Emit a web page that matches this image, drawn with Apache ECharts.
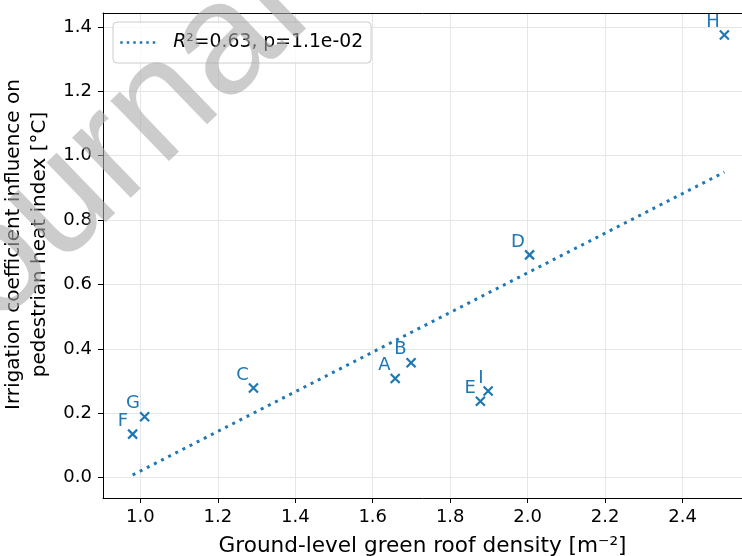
<!DOCTYPE html>
<html>
<head>
<meta charset="utf-8">
<script src="https://cdn.jsdelivr.net/npm/echarts@6/dist/echarts.min.js"></script>
<style>
html,body{margin:0;padding:0;background:#fff;}
#chart{width:742px;height:556px;}
</style>
</head>
<body>
<div id="chart"></div>
<script>
// ---- data ----
var pointNames = ['A', 'B', 'C', 'D', 'E', 'F', 'G', 'H', 'I'];
var xValues = [1.658, 1.699, 1.292, 2.005, 1.878, 0.980, 1.011, 2.508, 1.898];
var yValues = [0.308, 0.357, 0.278, 0.692, 0.237, 0.135, 0.189, 1.375, 0.269];
var fitX = [0.980, 2.508];
var fitY = [0.008, 0.949];
var xTicks = [1.0, 1.2, 1.4, 1.6, 1.8, 2.0, 2.2, 2.4];
var yTicks = [0.0, 0.2, 0.4, 0.6, 0.8, 1.0, 1.2, 1.4];
var xTitle = 'Ground-level green roof density [m⁻²]';
var yTitle = 'Irrigation coefficient influence on\npedestrian heat index [°C]';
var watermark = 'Journal Pre-proof';

var BLUE = '#1f77b4';
var FONT = '"DejaVu Sans", sans-serif';

var scatterData = pointNames.map(function (n, i) {
  return { name: n, value: [xValues[i], yValues[i]] };
});
var fitData = fitX.map(function (x, i) { return [x, fitY[i]]; });

var chart = echarts.init(document.getElementById('chart'), null, { renderer: 'canvas' });

var tickFmt = function (v) { return Number(v).toFixed(1); };
var XMIN = 0.9035, XMAX = 2.5535, YMIN = -0.0635, YMAX = 1.4435;

chart.setOption({
  animation: false,
  backgroundColor: '#fff',
  textStyle: { fontFamily: FONT },
  grid: { left: 103, top: 13, right: 0, bottom: 58, show: false, containLabel: false, outerBoundsMode: 'none' },
  xAxis: [{
    type: 'value', min: XMIN, max: XMAX,
    splitNumber: 8, minInterval: 0.2, maxInterval: 0.2,
    name: xTitle, nameLocation: 'middle', nameGap: 37,
    nameTextStyle: { fontSize: 21.6, color: '#000', fontFamily: FONT },
    axisLine: { show: true, onZero: false, lineStyle: { color: '#000', width: 1 } },
    axisTick: { show: true, length: 5, customValues: xTicks, lineStyle: { color: '#000', width: 1 } },
    axisLabel: { customValues: xTicks, formatter: tickFmt, fontSize: 18, color: '#000', margin: 10, fontFamily: FONT },
    splitLine: { show: true, lineStyle: { color: '#e6e6e6', width: 1 } }
  }, {
    type: 'value', position: 'top', min: XMIN, max: XMAX,
    axisLine: { show: true, onZero: false, lineStyle: { color: '#000', width: 1 } },
    axisTick: { show: false }, axisLabel: { show: false }, splitLine: { show: false }
  }],
  yAxis: {
    type: 'value', min: YMIN, max: YMAX,
    splitNumber: 8, minInterval: 0.2, maxInterval: 0.2,
    name: yTitle, nameLocation: 'middle', nameRotate: 90, nameGap: 40,
    nameTextStyle: { fontSize: 20, color: '#000', lineHeight: 26, fontFamily: FONT, padding: [0, 0, 0, 22] },
    axisLine: { show: true, onZero: false, lineStyle: { color: '#000', width: 1 } },
    axisTick: { show: true, length: 5, customValues: yTicks, lineStyle: { color: '#000', width: 1 } },
    axisLabel: { customValues: yTicks, formatter: tickFmt, fontSize: 18, color: '#000', margin: 11, fontFamily: FONT },
    splitLine: { show: true, lineStyle: { color: '#e6e6e6', width: 1 } }
  },
  legend: {
    show: true, left: 113, top: 22,
    orient: 'vertical',
    padding: [11, 8, 11, 6],
    itemWidth: 36, itemHeight: 14,
    backgroundColor: 'rgba(255,255,255,0.8)',
    borderColor: '#cccccc', borderWidth: 1, borderRadius: 4,
    data: [{ name: 'fit' }],
    itemStyle: { opacity: 0 },
    lineStyle: { color: BLUE, width: 2.5, type: [2.5, 4], opacity: 1 },
    formatter: function () { return '{i|R}²=0.63, p=1.1e-02'; },
    textStyle: {
      fontSize: 18.8, color: '#000', fontFamily: FONT, padding: [0, 0, 0, 12],
      rich: { i: { fontSize: 18.8, fontStyle: 'italic', color: '#000', fontFamily: FONT } }
    }
  },
  series: [
    {
      name: 'fit', type: 'line', data: fitData,
      showSymbol: false, symbol: 'none',
      lineStyle: { color: BLUE, width: 3, type: [3, 5], cap: 'butt' },
      z: 3
    },
    {
      name: 'points', type: 'scatter', data: scatterData,
      symbol: 'path://M0,0L10,10M10,0L0,10', symbolSize: 9,
      itemStyle: { color: 'rgba(0,0,0,0)', borderColor: BLUE, borderWidth: 2.2, opacity: 1 },
      label: {
        show: true, formatter: '{b}', position: 'left', distance: 0, offset: [1, -13],
        fontSize: 18, color: BLUE, fontFamily: FONT, opacity: 1
      },
      emphasis: { disabled: true },
      z: 4
    }
  ],
  graphic: [
    {
      type: 'text', x: -92, y: 352, rotation: 44 * Math.PI / 180, z: 100, silent: true,
      style: {
        text: watermark, font: '159px "Liberation Sans", Arial, sans-serif',
        fill: 'rgba(170,170,170,0.6)', align: 'left', verticalAlign: 'middle'
      }
    }
  ]
});
</script>
</body>
</html>
